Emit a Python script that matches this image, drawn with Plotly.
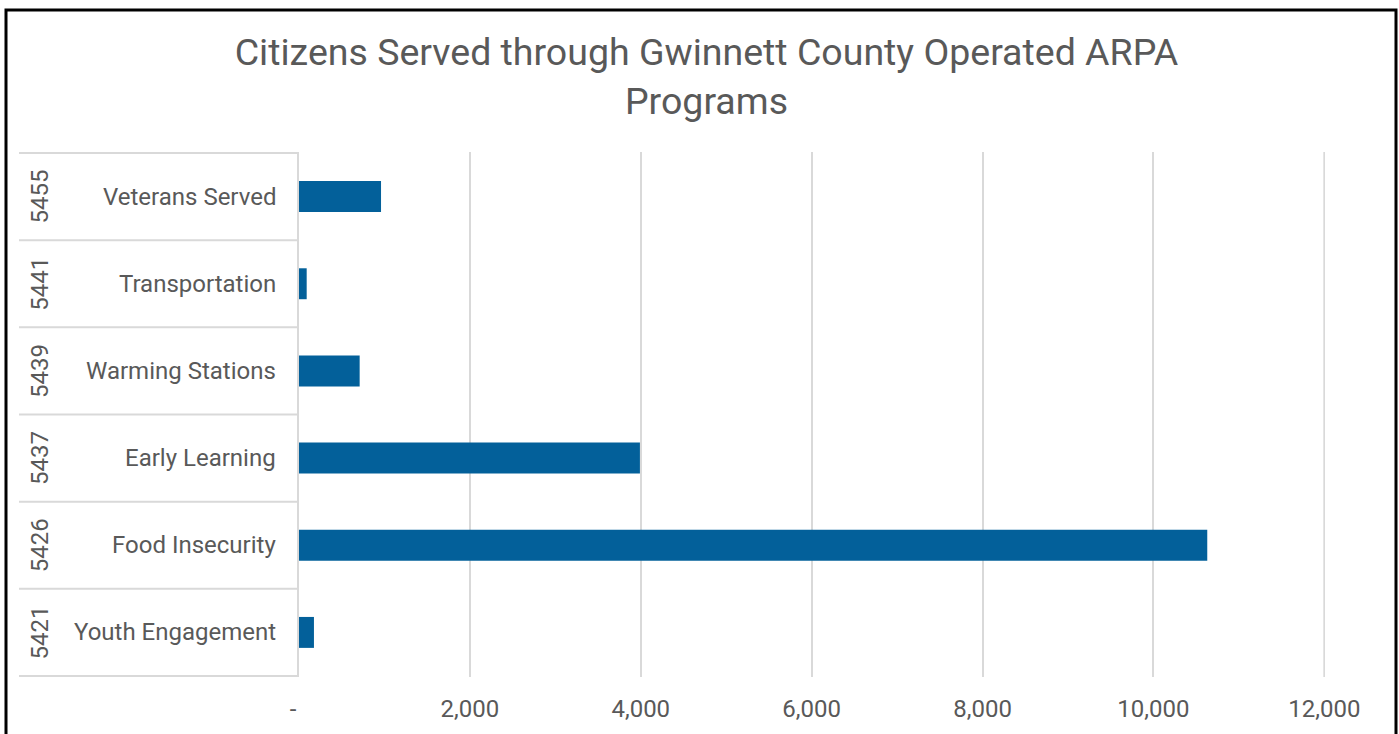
import plotly.graph_objects as go

categories = ["Veterans Served", "Transportation", "Warming Stations",
              "Early Learning", "Food Insecurity", "Youth Engagement"]
codes = ["5455", "5441", "5439", "5437", "5426", "5421"]
values = [960, 90, 710, 3990, 10630, 175]
tick_vals = [0, 2000, 4000, 6000, 8000, 10000, 12000]
tick_text = ["-\u00a0\u00a0", "2,000", "4,000", "6,000", "8,000", "10,000", "12,000"]
title_text = "Citizens Served through Gwinnett County Operated ARPA<br>Programs"

W, H = 1399, 734
L, R, T, B = 299, 1325, 152, 677
pw, ph = R - L, B - T

def px_x(p):
    return (p - L) / pw

def px_y(p):
    return (B - p) / ph

FONT = "Roboto"
GRAY = "#595959"
LINE = "#d9d9d9"

fig = go.Figure(go.Bar(
    y=categories, x=values, orientation="h",
    marker=dict(color="#03609a", line=dict(width=0)),
    width=0.355, hoverinfo="x+y",
))

shapes = []
for i in range(len(categories) + 1):
    shapes.append(dict(type="line", xref="paper", yref="y",
                       x0=px_x(19), x1=0, y0=i - 0.5, y1=i - 0.5,
                       line=dict(color=LINE, width=2), layer="below"))
# last gridline at the axis end (plotly drops it at the range edge)
shapes.append(dict(type="line", xref="x", yref="paper",
                   x0=tick_vals[-1], x1=tick_vals[-1], y0=0, y1=1,
                   line=dict(color=LINE, width=2), layer="below"))
shapes.append(dict(type="rect", xref="paper", yref="paper",
                   x0=px_x(6), x1=px_x(1396), y0=px_y(760), y1=px_y(10),
                   line=dict(color="black", width=3)))

annotations = []
for i, (c, k) in enumerate(zip(categories, codes)):
    annotations.append(dict(x=px_x(278), y=c, xref="paper", yref="y",
                            text=c, showarrow=False, xanchor="right",
                            yanchor="middle",
                            font=dict(family=FONT, size=24, color=GRAY)))
    annotations.append(dict(x=px_x(40), y=c, xref="paper", yref="y",
                            text=k, showarrow=False, textangle=-90,
                            xanchor="center", yanchor="middle",
                            font=dict(family=FONT, size=24, color=GRAY)))

fig.update_layout(
    width=W, height=H,
    margin=dict(l=L, r=W - R, t=T, b=H - B, pad=0),
    paper_bgcolor="white", plot_bgcolor="white",
    title=dict(text=title_text, x=0.505, xanchor="center",
               y=1 - 65 / H, yanchor="middle", yref="container",
               font=dict(family=FONT, size=37.5, color=GRAY)),
    xaxis=dict(range=[0, 12008], tickvals=tick_vals, ticktext=tick_text,
               showgrid=True, gridcolor=LINE, gridwidth=2,
               zeroline=False, showline=False, ticks="",
               ticklabelstandoff=15,
               tickfont=dict(family=FONT, size=24, color=GRAY)),
    yaxis=dict(autorange="reversed", showticklabels=False, ticks="",
               showgrid=False, zeroline=False,
               showline=True, linecolor=LINE, linewidth=2),
    shapes=shapes, annotations=annotations,
    showlegend=False,
)

fig.write_html("out.html", config={"displayModeBar": False},
               post_script="document.body.style.margin='0px';document.body.style.overflow='hidden';")
